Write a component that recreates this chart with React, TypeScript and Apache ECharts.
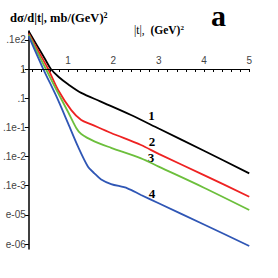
import React, { useEffect, useRef } from 'react';
import * as echarts from 'echarts';

// |t| (GeV^2) vs dσ/d|t| (mb/GeV^2)
const curve1: number[][] = [[0.13, 19.6], [0.3, 7.0], [0.5, 2.08], [0.62, 1.0], [0.8, 0.52], [1.0, 0.30], [1.29, 0.152], [1.71, 0.078], [2.39, 0.0265], [3.0, 0.0091], [4.0, 0.00158], [5.0, 0.000265]];
const curve2: number[][] = [[0.13, 16.5], [0.35, 3.9], [0.56, 1.0], [0.78, 0.19], [1.07, 0.039], [1.29, 0.0179], [1.51, 0.0127], [1.95, 0.0064], [2.61, 0.00248], [3.0, 0.00123], [4.0, 0.000231], [5.0, 0.0000419]];
const curve3: number[][] = [[0.13, 15.2], [0.32, 3.8], [0.51, 1.0], [0.745, 0.19], [1.0, 0.0336], [1.18, 0.0095], [1.29, 0.0059], [1.58, 0.0033], [1.95, 0.00199], [2.61, 0.000869], [3.0, 0.000451], [4.0, 0.0000853], [5.0, 0.0000147]];
const curve4: number[][] = [[0.13, 13.5], [0.453, 1.0], [0.745, 0.112], [1.0, 0.0137], [1.22, 0.00217], [1.44, 0.000448], [1.58, 0.000266], [1.73, 0.000163], [1.95, 0.000114], [2.31, 0.0000813], [2.61, 0.0000479], [3.0, 0.0000249], [4.0, 0.00000467], [5.0, 0.000000855]];

const curveNames = ['1', '2', '3', '4'];
const curveColors = ['#000000', '#ee2222', '#6cbf3c', '#2f56b5'];

const yTickExponents = [1, 0, -1, -2, -3, -4, -5, -6];
const yTickLabels = ['.1e2', '1', '.1', '.1e-1', '.1e-2', '.1e-3', 'e-05', 'e-06'];

const Y_MIN = 6.75e-7;
const Y_MAX = 20.1;

export default function App() {
  const ref = useRef<HTMLDivElement>(null);
  useEffect(() => {
    if (!ref.current) return;
    const chart = echarts.init(ref.current, null, { renderer: 'svg' });
    const curves = [curve1, curve2, curve3, curve4];
    const series: any[] = curves.map((c, i) => ({
      type: 'line',
      name: curveNames[i],
      data: c,
      smooth: 0.3,
      showSymbol: false,
      symbol: 'none',
      lineStyle: { color: curveColors[i], width: 1.8 },
      z: 3,
    }));
    series[0].markLine = {
      silent: true,
      symbol: 'none',
      label: { show: false },
      lineStyle: { color: '#000', width: 1.2, type: 'solid' },
      data: [[{ coord: [0.13, 1] }, { coord: [5, 1] }]],
    };
    const labelFont = { fontFamily: 'Liberation Serif', fontWeight: 'bold', fontSize: 13, fill: '#000' };
    chart.setOption({
      animation: false,
      grid: { left: 21, right: 28.75, top: 31, bottom: 29, containLabel: false },
      xAxis: {
        type: 'value',
        position: 'top',
        offset: -38,
        min: 0,
        max: 5,
        interval: 1,
        axisLine: { show: false },
        axisTick: { show: true, inside: true, length: 3, lineStyle: { color: '#000', width: 1 } },
        minorTick: { show: true, splitNumber: 5, length: 3, lineStyle: { color: '#000', width: 1 } },
        axisLabel: { show: true, margin: 4, showMinLabel: false, color: '#444', fontSize: 10, fontFamily: 'Liberation Sans' },
        splitLine: { show: false },
      },
      yAxis: {
        type: 'log',
        logBase: 10,
        min: Y_MIN,
        max: Y_MAX,
        offset: -6,
        axisLine: { show: true, lineStyle: { color: '#000', width: 1.5 } },
        axisTick: { show: true, inside: false, length: 4, lineStyle: { color: '#000', width: 1 } },
        axisLabel: {
          show: true,
          margin: 3,
          showMinLabel: false,
          showMaxLabel: false,
          color: '#444',
          fontSize: 10,
          fontFamily: 'Liberation Sans',
          formatter: (v: number) => {
            const e = Math.round(Math.log10(v));
            const idx = yTickExponents.indexOf(e);
            return idx >= 0 ? yTickLabels[idx] : '';
          },
        },
        splitLine: { show: false },
      },
      series,
      graphic: [
        {
          type: 'text', left: 10, top: 11,
          style: {
            text: '{b|dσ/d|t|, mb/(GeV)}{s|2}',
            rich: {
              b: { fontFamily: 'Liberation Serif', fontWeight: 'bold', fontSize: 12.5, fill: '#000', verticalAlign: 'bottom' },
              s: { fontFamily: 'Liberation Serif', fontWeight: 'bold', fontSize: 8, fill: '#000', verticalAlign: 'top', padding: [0, 0, 5, 0] },
            },
          },
        },
        {
          type: 'text', left: 134, top: 24,
          style: {
            text: '{n||t|,  }{b|(GeV)}{s|2}',
            rich: {
              n: { fontFamily: 'Liberation Serif', fontSize: 11.5, fill: '#000' },
              b: { fontFamily: 'Liberation Serif', fontWeight: 'bold', fontSize: 11.5, fill: '#000' },
              s: { fontFamily: 'Liberation Serif', fontWeight: 'bold', fontSize: 7, fill: '#000', padding: [0, 0, 5, 0] },
            },
          },
        },
        {
          type: 'text', x: 218.5, y: 15,
          style: { text: 'a', fontFamily: 'Liberation Serif', fontWeight: 'bold', fontSize: 30, fill: '#000', align: 'center', verticalAlign: 'middle' },
        },
        { type: 'text', x: 151.5, y: 115, style: { text: '1', ...labelFont, align: 'center', verticalAlign: 'middle' } },
        { type: 'text', x: 152, y: 141, style: { text: '2', ...labelFont, align: 'center', verticalAlign: 'middle' } },
        { type: 'text', x: 151, y: 157, style: { text: '3', ...labelFont, align: 'center', verticalAlign: 'middle' } },
        { type: 'text', x: 152, y: 193, style: { text: '4', ...labelFont, align: 'center', verticalAlign: 'middle' } },
      ],
    });
    return () => chart.dispose();
  }, []);
  return <div ref={ref} style={{ width: 278, height: 278, position: 'absolute', left: 0, top: 0 }} />;
}
